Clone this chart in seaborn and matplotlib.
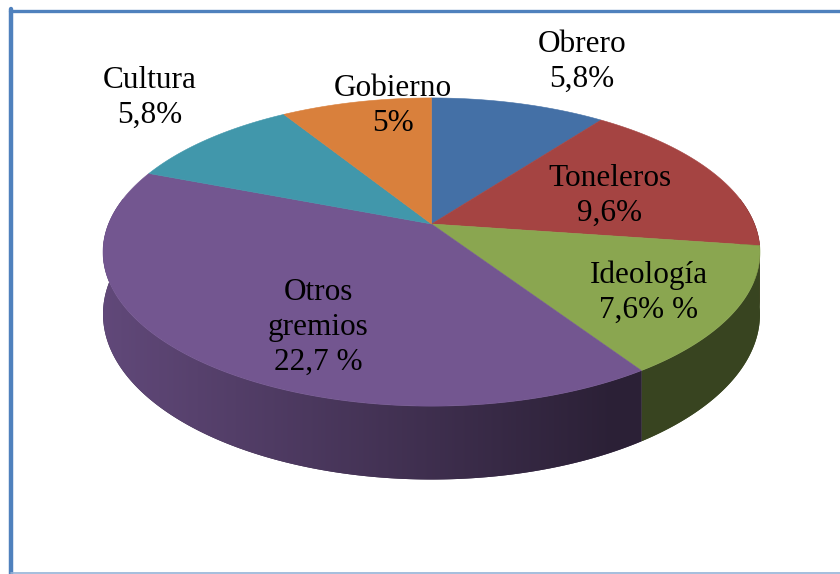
import numpy as np
import matplotlib
matplotlib.use("Agg")
import matplotlib.pyplot as plt
from matplotlib.patches import Polygon
from matplotlib.lines import Line2D
from matplotlib.colors import to_rgb
import seaborn as sns

# ── Data ─────────────────────────────────────────────────────────────────────
labels = ["Obrero", "Toneleros", "Ideología", "Otros\ngremios", "Cultura", "Gobierno"]
values = [5.8, 9.6, 7.6, 22.7, 5.8, 5.0]
value_text = ["5,8%", "9,6%", "7,6% %", "22,7 %", "5,8%", "5%"]
colors = ["#4470a6", "#a54442", "#8aa650", "#735690", "#4197ab", "#d9803c"]

# label centres (px), as placed by hand in the original
label_pos = [(582, 62), (610, 196), (649, 293), (318, 327), (150, 98), (393, 106)]

# ── Style ────────────────────────────────────────────────────────────────────
sns.set_theme(style="white")
plt.rcParams["font.family"] = ["Liberation Serif", "DejaVu Serif"]

W, H = 840, 574
fig = plt.figure(figsize=(W / 100, H / 100), dpi=100)
ax = fig.add_axes([0, 0, 1, 1])
ax.axis("off")

# ── 3D pie geometry (perspective disc) ───────────────────────────────────────
CX, CY = 431.5, 224
A, B, K = 323, 149, 0.182
DEPTH = 60


def proj(theta, depth=0.0):
    u, v = np.sin(theta), np.cos(theta)
    w = 1 + K * v
    return CX + A * u / w, CY - B * v / w + depth / w


fracs = np.array(values) / np.sum(values)
edges = np.concatenate([[0], np.cumsum(fracs)]) * 2 * np.pi

# horizontal lighting of the side wall (light from the left)
xs = np.arange(W) + 0.5
light = np.clip(0.8 - 0.000915 * (xs - 150), 0.38, 0.86)

# side walls, far ones first
sides = []
for i in range(len(values)):
    lo = max(edges[i], np.radians(80))
    hi = min(edges[i + 1], np.radians(280))
    if hi > lo:
        sides.append((np.cos((lo + hi) / 2), i, lo, hi))
sides.sort(reverse=True)

z = 1
for _, i, lo, hi in sides:
    ts = np.linspace(lo, hi, 300)
    top = [proj(t) for t in ts]
    bot = [proj(t, DEPTH) for t in ts[::-1]]
    base = np.array(to_rgb(colors[i]))
    poly = Polygon(top + bot, closed=True, facecolor=tuple(base * 0.5),
                   edgecolor="none", zorder=z)
    ax.add_patch(poly)
    # the green wall is a touch lighter than the purple one in the original
    lit = np.maximum(light, 0.41) if i == 2 else light
    grad = (lit[:, None] * base[None, :])[None, :, :]
    im = ax.imshow(grad, extent=(0, W, H, 0), aspect="auto",
                   interpolation="bilinear", zorder=z + 0.5)
    im.set_clip_path(poly)
    z += 1

# top face
for i in range(len(values)):
    ts = np.linspace(edges[i], edges[i + 1], 200)
    pts = [(CX, CY)] + [proj(t) for t in ts]
    ax.add_patch(Polygon(pts, closed=True, facecolor=colors[i],
                         edgecolor=colors[i], lw=0.4, zorder=10))

# labels
for i in range(len(values)):
    x, y = label_pos[i]
    ax.text(x, y, f"{labels[i]}\n{value_text[i]}", ha="center", va="center",
            fontsize=22.5, color="black", linespacing=1.27, zorder=20)

ax.set_xlim(0, W)
ax.set_ylim(H, 0)

# ── Frame ────────────────────────────────────────────────────────────────────
ax.add_line(Line2D([11, 11], [9, H], color="#4f81bd", lw=3.2, clip_on=False, zorder=30))
ax.add_line(Line2D([9.5, W], [10.5, 10.5], color="#4f81bd", lw=2.4, clip_on=False, zorder=30))
ax.add_line(Line2D([11, W], [572.5, 572.5], color="#95b3d7", lw=1.2, clip_on=False, zorder=30))

fig.savefig("out.png", dpi=100, facecolor="white")
